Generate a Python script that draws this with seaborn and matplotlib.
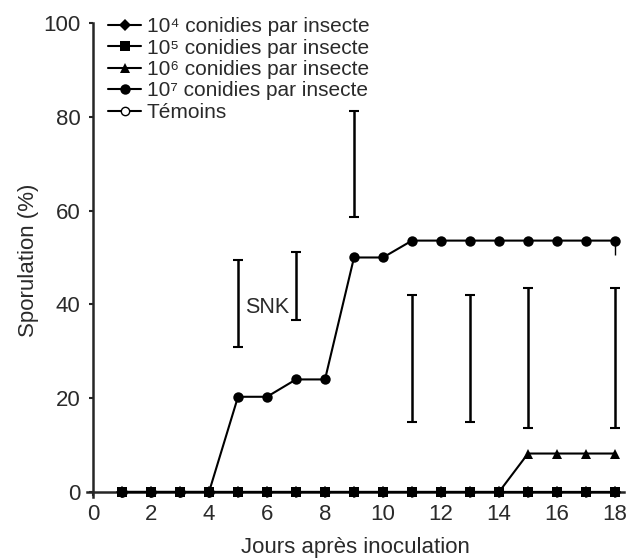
import numpy as np
import pandas as pd
import matplotlib
matplotlib.use('Agg')
import matplotlib.pyplot as plt
import seaborn as sns

# jours et pourcentages de sporulation
days = list(range(1, 19))
spor_1e4 = [0] * 18
spor_1e5 = [0] * 18
spor_1e6 = [0] * 14 + [8.2, 8.2, 8.2, 8.2]
spor_1e7 = [0, 0, 0, 0, 20.3, 20.3, 24.0, 24.0, 50.0, 50.0,
            53.6, 53.6, 53.6, 53.6, 53.6, 53.6, 53.6, 53.6]
spor_temoins = [0] * 18

labels = ['10⁴ conidies par insecte', '10⁵ conidies par insecte',
          '10⁶ conidies par insecte', '10⁷ conidies par insecte', 'Témoins']

# barres SNK (min / max)
snk_days = [5, 7, 9, 11, 13, 15, 18]
snk_low = [31.0, 36.7, 58.6, 15.0, 15.0, 13.6, 13.6]
snk_high = [49.4, 51.1, 81.3, 42.1, 42.1, 43.4, 43.4]

sns.set_style('ticks')
plt.rcParams['font.family'] = ['Liberation Sans', 'DejaVu Sans']
txt = '#2a2a2a'

fig = plt.figure(figsize=(6.38, 5.58), dpi=100)
ax = fig.add_axes([0.1367, 0.1099, 0.8409, 0.8489])

df = pd.DataFrame({'jour': days, 'e4': spor_1e4, 'e5': spor_1e5, 'e6': spor_1e6,
                   'e7': spor_1e7, 'tem': spor_temoins})

styles = [
    ('tem', 'o', 6, 'white', labels[4]),
    ('e7', 'o', 7.5, 'black', labels[3]),
    ('e6', '^', 7, 'black', labels[2]),
    ('e5', 's', 6.5, 'black', labels[1]),
    ('e4', 'D', 6, 'black', labels[0]),
]
for col, mk, ms, fc, lab in styles:
    sns.lineplot(data=df, x='jour', y=col, ax=ax, color='black', lw=1.5,
                 marker=mk, markersize=ms, markerfacecolor=fc,
                 markeredgecolor='black', markeredgewidth=1 if fc == 'white' else 0,
                 label=lab, clip_on=False, zorder=3)

# petit trait sous le dernier point 10^7
ax.vlines(days[-1], 50.6, spor_1e7[-1], color='black', lw=1)

mid = [(a + b) / 2 for a, b in zip(snk_low, snk_high)]
half = [(b - a) / 2 for a, b in zip(snk_low, snk_high)]
ax.errorbar(snk_days, mid, yerr=half, fmt='none', ecolor='black',
            elinewidth=1.8, capsize=3.5, capthick=1.5)
ax.text(6.0, 39.4, 'SNK', ha='center', va='center', fontsize=15.5, color=txt)

ax.set_xlim(-0.2, 18.3)
ax.set_ylim(-1, 100)
ax.spines['left'].set_position(('data', 0))
ax.spines['bottom'].set_position(('data', 0))
for s in ['left', 'bottom']:
    ax.spines[s].set_linewidth(1.8)
sns.despine(ax=ax)
ax.set_xticks(range(0, 19, 2))
ax.set_yticks(range(0, 101, 20))
ax.tick_params(direction='out', length=3, width=1.5, pad=6,
               labelsize=16, labelcolor=txt)
ax.set_xlabel('Jours après inoculation', fontsize=16, color=txt)
ax.set_ylabel('Sporulation (%)', fontsize=16, color=txt, labelpad=3)
ax.xaxis.set_label_coords(0.5, -0.085)

h, l = ax.get_legend_handles_labels()
order = [labels.index(x) for x in l]
pairs = sorted(zip(order, h, l))
ax.legend([p[1] for p in pairs], [p[2] for p in pairs],
          loc='upper left', bbox_to_anchor=(108 / 638, 1 - 17 / 558),
          bbox_transform=fig.transFigure, frameon=False, fontsize=15,
          handlelength=1.6, handletextpad=0.25, labelspacing=0.12,
          borderpad=0, borderaxespad=0, labelcolor=txt)

fig.savefig('out.png', dpi=100)
